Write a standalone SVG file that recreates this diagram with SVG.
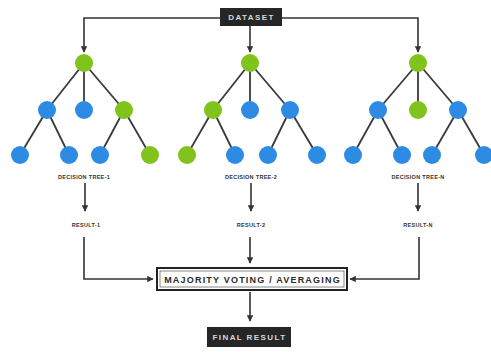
<svg xmlns="http://www.w3.org/2000/svg" width="491" height="352" viewBox="0 0 491 352">
<defs>
<style>
.bg{fill:#ffffff}
.ln{stroke:#333333;stroke-width:1.6;fill:none}
.ed{stroke:#3a3a3a;stroke-width:1.8}
.g{fill:#7fc31c}
.b{fill:#2e8be3}
.lbl{font-family:"Liberation Sans",Arial,sans-serif;font-size:5.5px;font-weight:bold;fill:#333333;text-anchor:middle;letter-spacing:0.3px}
.dark{fill:#262626}
.wt{font-family:"Liberation Sans",Arial,sans-serif;font-size:8px;font-weight:bold;fill:#d8d8d8;text-anchor:middle;letter-spacing:1.4px}
.mt{font-family:"Liberation Sans",Arial,sans-serif;font-size:9px;font-weight:bold;fill:#2a2a2a;text-anchor:middle;letter-spacing:1.2px}
</style>
<marker id="ah" viewBox="0 0 10 10" refX="9" refY="5" markerWidth="4" markerHeight="4" orient="auto">
<path d="M0,0 L10,5 L0,10 Z" fill="#333333"/>
</marker>
</defs>
<rect class="bg" x="0" y="0" width="491" height="352"/>

<g id="connectors">
<path class="ln" d="M220,18 H84 V52" marker-end="url(#ah)"/>
<path class="ln" d="M250,26 V52" marker-end="url(#ah)"/>
<path class="ln" d="M282,18 H418 V52" marker-end="url(#ah)"/>
<path class="ln" d="M85,183 V211" marker-end="url(#ah)"/>
<path class="ln" d="M251,183 V211" marker-end="url(#ah)"/>
<path class="ln" d="M418,183 V211" marker-end="url(#ah)"/>
<path class="ln" d="M84,237 V279 H153" marker-end="url(#ah)"/>
<path class="ln" d="M250,237 V263" marker-end="url(#ah)"/>
<path class="ln" d="M419,237 V279 H350" marker-end="url(#ah)"/>
<path class="ln" d="M250,292 V321" marker-end="url(#ah)"/>
</g>

<g id="dataset">
<rect class="dark" x="220" y="8" width="62" height="18"/>
<text class="wt" x="251.5" y="20">DATASET</text>
</g>

<g id="tree1">
<line class="ed" x1="84" y1="63" x2="47" y2="110"/>
<line class="ed" x1="84" y1="63" x2="84" y2="110"/>
<line class="ed" x1="84" y1="63" x2="124" y2="110"/>
<line class="ed" x1="47" y1="110" x2="20" y2="155"/>
<line class="ed" x1="47" y1="110" x2="69" y2="155"/>
<line class="ed" x1="124" y1="110" x2="100" y2="155"/>
<line class="ed" x1="124" y1="110" x2="150" y2="155"/>
<circle class="g" cx="84" cy="63" r="9"/>
<circle class="b" cx="47" cy="110" r="9"/>
<circle class="b" cx="84" cy="110" r="9"/>
<circle class="g" cx="124" cy="110" r="9"/>
<circle class="b" cx="20" cy="155" r="9"/>
<circle class="b" cx="69" cy="155" r="9"/>
<circle class="b" cx="100" cy="155" r="9"/>
<circle class="g" cx="150" cy="155" r="9"/>
<text class="lbl" x="84" y="179">DECISION TREE-1</text>
</g>

<g id="tree2">
<line class="ed" x1="250" y1="63" x2="213" y2="110"/>
<line class="ed" x1="250" y1="63" x2="250" y2="110"/>
<line class="ed" x1="250" y1="63" x2="290" y2="110"/>
<line class="ed" x1="213" y1="110" x2="187" y2="155"/>
<line class="ed" x1="213" y1="110" x2="235" y2="155"/>
<line class="ed" x1="290" y1="110" x2="268" y2="155"/>
<line class="ed" x1="290" y1="110" x2="317" y2="155"/>
<circle class="g" cx="250" cy="63" r="9"/>
<circle class="g" cx="213" cy="110" r="9"/>
<circle class="b" cx="250" cy="110" r="9"/>
<circle class="b" cx="290" cy="110" r="9"/>
<circle class="g" cx="187" cy="155" r="9"/>
<circle class="b" cx="235" cy="155" r="9"/>
<circle class="b" cx="268" cy="155" r="9"/>
<circle class="b" cx="317" cy="155" r="9"/>
<text class="lbl" x="251" y="179">DECISION TREE-2</text>
</g>

<g id="tree3">
<line class="ed" x1="418" y1="63" x2="378" y2="110"/>
<line class="ed" x1="418" y1="63" x2="418" y2="110"/>
<line class="ed" x1="418" y1="63" x2="458" y2="110"/>
<line class="ed" x1="378" y1="110" x2="353" y2="155"/>
<line class="ed" x1="378" y1="110" x2="402" y2="155"/>
<line class="ed" x1="458" y1="110" x2="432" y2="155"/>
<line class="ed" x1="458" y1="110" x2="484" y2="155"/>
<circle class="g" cx="418" cy="63" r="9"/>
<circle class="b" cx="378" cy="110" r="9"/>
<circle class="g" cx="418" cy="110" r="9"/>
<circle class="b" cx="458" cy="110" r="9"/>
<circle class="b" cx="353" cy="155" r="9"/>
<circle class="b" cx="402" cy="155" r="9"/>
<circle class="b" cx="432" cy="155" r="9"/>
<circle class="b" cx="484" cy="155" r="9"/>
<text class="lbl" x="418" y="179">DECISION TREE-N</text>
</g>

<g id="result1"><text class="lbl" x="86" y="227">RESULT-1</text></g>
<g id="result2"><text class="lbl" x="251" y="227">RESULT-2</text></g>
<g id="resultN"><text class="lbl" x="418" y="227">RESULT-N</text></g>

<g id="majority">
<rect x="157" y="268" width="190" height="22" fill="#ffffff" stroke="#222222" stroke-width="2"/>
<rect x="160" y="271" width="184" height="16" fill="none" stroke="#555555" stroke-width="0.7"/>
<text class="mt" x="252.5" y="282.5">MAJORITY VOTING / AVERAGING</text>
</g>

<g id="final">
<rect class="dark" x="207" y="327" width="84" height="20"/>
<text class="wt" x="249.5" y="340">FINAL RESULT</text>
</g>
</svg>
